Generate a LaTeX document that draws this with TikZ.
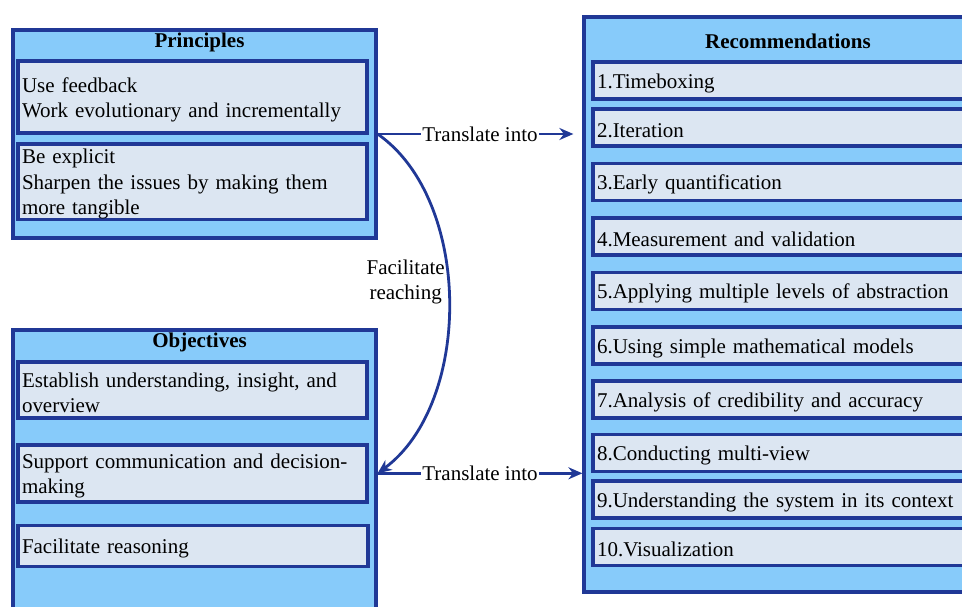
\documentclass[tikz,border=0pt]{standalone}
\usepackage{fontspec}
\setmainfont{Liberation Serif}
\usetikzlibrary{positioning,calc,arrows.meta}
\definecolor{rimblue}{RGB}{32,56,150}
\definecolor{skyfill}{RGB}{135,203,250}
\definecolor{cellfill}{RGB}{220,230,242}
\tikzstyle{outerbox} = [draw=rimblue, line width=3.2pt, fill=skyfill, rectangle, inner sep=0pt]
\tikzstyle{innerbox} = [draw=rimblue, line width=3.6pt, fill=cellfill, rectangle, inner xsep=4pt, inner ysep=0pt, align=left, execute at begin node={\rule{0pt}{20pt}}]
\tikzstyle{heading} = [font=\fontsize{21}{25.5}\selectfont\bfseries, inner sep=0pt]
\tikzstyle{link} = [draw=rimblue, line width=2.8pt, -{Stealth[length=14pt,width=12pt]}]

\begin{document}
\begin{tikzpicture}[x=1pt, y=1pt, font=\fontsize{21}{25.5}\selectfont]
        \useasboundingbox (0,0) rectangle (962,606);

        % principles
        \node [outerbox, minimum width=363, minimum height=208] (prin) at (194.5,472) {};
        \node [heading] (prinT) at ($(prin.north)+(5,-14)$) {Principles};
        \node [innerbox, text width=341pt, minimum height=72, below=31pt of prin.north, xshift=-2pt] (p1) {Use feedback\\Work evolutionary and incrementally};
        \node [innerbox, text width=341pt, minimum height=74, below=7pt of p1] (p2) {Be explicit\\Sharpen the issues by making them\\more tangible};

        % objectives
        \node [outerbox, minimum width=363, minimum height=316] (obj) at (194.5,118) {};
        \node [heading] (objT) at ($(obj.north)+(5,-14)$) {Objectives};
        \node [innerbox, text width=341pt, minimum height=56, below=32pt of obj.north, xshift=-2pt] (o1) {Establish understanding, insight, and\\overview};
        \node [innerbox, text width=341pt, minimum height=57, below=23pt of o1] (o2) {Support communication and decision-\\making};
        \node [innerbox, text width=342pt, minimum height=41, below=20pt of o2, xshift=0.5pt] (o3) {Facilitate reasoning};

        % recommendations
        \node [outerbox, minimum width=408, minimum height=575] (rec) at (788,301.5) {};
        \node [heading] (recT) at ($(rec.north)+(0,-26)$) {Recommendations};
        \node [innerbox, text width=382pt, minimum height=37, below=45pt of rec.north] (r1) {1.Timeboxing};
        \node [innerbox, text width=382pt, minimum height=37, below=6pt of r1] (r2) {2.Iteration};
        \node [innerbox, text width=382pt, minimum height=37, below=14pt of r2] (r3) {3.Early quantification};
        \node [innerbox, text width=382pt, minimum height=37, below=14pt of r3] (r4) {4.Measurement and validation};
        \node [innerbox, text width=382pt, minimum height=37, below=14pt of r4] (r5) {5.Applying multiple levels of abstraction};
        \node [innerbox, text width=382pt, minimum height=37, below=14pt of r5] (r6) {6.Using simple mathematical models};
        \node [innerbox, text width=382pt, minimum height=37, below=13pt of r6] (r7) {7.Analysis of credibility and accuracy};
        \node [innerbox, text width=382pt, minimum height=37, below=13pt of r7] (r8) {8.Conducting multi-view};
        \node [innerbox, text width=382pt, minimum height=37, below=6pt of r8] (r9) {9.Understanding the system in its context};
        \node [innerbox, text width=382pt, minimum height=37, below=7pt of r9] (r10) {10.Visualization};

        % connectors
        \coordinate (oin) at (obj.east |- o2);
        \draw[link, shorten >=9pt] (prin.east) -- node[fill=white, inner sep=1pt] (tr1) {Translate into} (prin.east -| rec.west);
        \draw[link] (oin) -- node[fill=white, inner sep=1pt] (tr2) {Translate into} (oin -| rec.west);
        \draw[link] (prin.east) .. controls +(95,-66) and +(95,70) .. node[pos=0.45, left=2pt, inner sep=0pt, align=center] (reach) {Facilitate\\reaching} (oin);
    \end{tikzpicture}
\end{document}
